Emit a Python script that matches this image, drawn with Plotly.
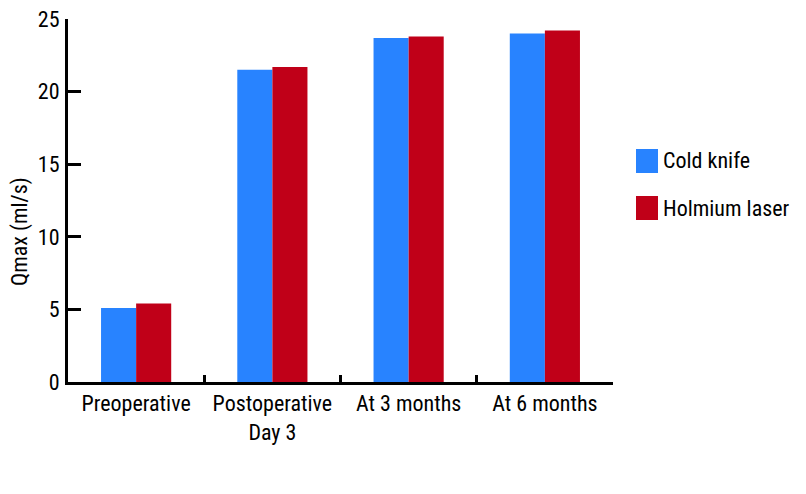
import plotly.graph_objects as go

categories = ["Preoperative", "Postoperative<br>Day 3", "At 3 months", "At 6 months"]
series_names = ["Cold knife", "Holmium laser"]
cold_knife = [5.1, 21.5, 23.7, 24.0]
holmium_laser = [5.4, 21.7, 23.8, 24.2]
colors = ["#2883FF", "#C00018"]
y_ticks = [0, 5, 10, 15, 20, 25]

FONT = "Roboto Condensed, Liberation Sans Narrow, DejaVu Sans Condensed, sans-serif"
FS = 22

# page has an 8px body margin; plot area sits at x 68..613, y 19..382 in the page
PX0, PX1, PY0, PY1 = 68, 613, 19, 382
PW, PH = PX1 - PX0, PY1 - PY0


def px(x):
    return (x - PX0) / PW


def py(y):
    return (PY1 - y) / PH


fig = go.Figure()
for name, vals, col in zip(series_names, [cold_knife, holmium_laser], colors):
    fig.add_trace(go.Bar(x=categories, y=vals, name=name, marker=dict(color=col, line=dict(width=0)),
                         showlegend=False))

# legend drawn as swatches + labels
for i, (name, col) in enumerate(zip(series_names, colors)):
    yc = 161 + i * 47
    fig.add_shape(type="rect", xref="paper", yref="paper",
                  x0=px(636), x1=px(658), y0=py(yc + 12), y1=py(yc - 12),
                  fillcolor=col, line=dict(width=0))
    fig.add_annotation(xref="paper", yref="paper", x=px(661), y=py(yc),
                       text=name, showarrow=False, xanchor="left", yanchor="middle",
                       font=dict(family=FONT, size=FS, color="black"))

fig.add_annotation(xref="paper", yref="paper", x=px(20), y=py(232),
                   text="Qmax (ml/s)", textangle=-90, showarrow=False,
                   xanchor="center", yanchor="middle",
                   font=dict(family=FONT, size=FS, color="black"))

fig.update_layout(
    width=798, height=486,
    margin=dict(l=PX0 - 8, r=798 - (PX1 - 8), t=PY0 - 8, b=486 - (PY1 - 8), autoexpand=False),
    paper_bgcolor="white", plot_bgcolor="white",
    barmode="group", bargap=0.485, bargroupgap=0,
    font=dict(family=FONT, size=FS, color="black"),
    xaxis=dict(type="category", range=[-0.5, 3.5], tickson="boundaries", automargin=False,
               tickangle=0,
               showline=True, linecolor="black", linewidth=3,
               ticks="inside", ticklen=7, tickwidth=3, tickcolor="black",
               showgrid=False, zeroline=False, fixedrange=True),
    yaxis=dict(range=[0, 25], tickvals=y_ticks, automargin=False, ticklabeloverflow="allow",
               showline=True, linecolor="black", linewidth=3,
               ticks="inside", ticklen=13, tickwidth=3, tickcolor="black",
               showgrid=False, zeroline=False, ticklabelstandoff=1),
)

fig.write_html("out.html")
